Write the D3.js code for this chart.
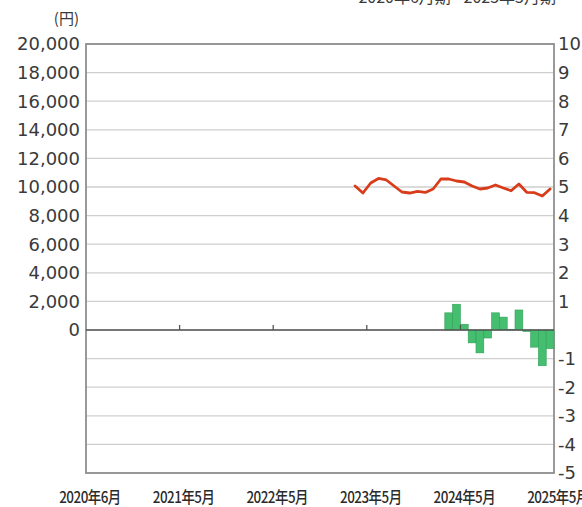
<!DOCTYPE html>
<html><head><meta charset="utf-8">
<script src="https://cdn.jsdelivr.net/npm/d3@7"></script>
<style>html,body{margin:0;padding:0;background:#fff;}svg{display:block;}</style>
</head><body>
<svg id="c" width="582" height="507"></svg>
<script>
// ---- data ----
const monthCount = 60; // 2020年6月 .. 2025年5月
const xTickIdx = [0, 12, 24, 36, 48, 60];
const xTickLabels = ["2020年6月", "2021年5月", "2022年5月", "2023年5月", "2024年5月", "2025年5月"];
const leftTicks = [20000, 18000, 16000, 14000, 12000, 10000, 8000, 6000, 4000, 2000, 0];
const leftGrid = [-2000, -4000, -6000, -8000, -10000];
const rightTicks = [10, 9, 8, 7, 6, 5, 4, 3, 2, 1, -1, -2, -3, -4, -5];
const lineStart = 34;
const lineValues = [10070, 9580, 10280, 10600, 10490, 10070, 9650, 9580, 9690, 9620,
  9860, 10560, 10560, 10420, 10350, 10070, 9860, 9930, 10140, 9930,
  9740, 10210, 9630, 9600, 9370, 9860];
const barStart = 46;
const barValues = [0.6, 0.9, 0.2, -0.45, -0.8, -0.28, 0.6, 0.45, 0.02, 0.7, -0.05, -0.6, -1.25, -0.65];

// ---- layout ----
const L = 86, R = 554, T = 44, B = 473;
const svg = d3.select("#c");
const x = d3.scaleLinear().domain([0, monthCount]).range([L, R]);
const yL = d3.scaleLinear().domain([-10000, 20000]).range([B, T]);
const yR = d3.scaleLinear().domain([-5, 10]).range([B, T]);

// gridlines
svg.append("g").selectAll("line").data(leftTicks.concat(leftGrid)).join("line")
  .attr("x1", L).attr("x2", R).attr("y1", d => yL(d)).attr("y2", d => yL(d))
  .attr("stroke", "#cfcfcf").attr("stroke-width", 1.3);

// frame
svg.append("rect").attr("x", L).attr("y", T).attr("width", R - L).attr("height", B - T)
  .attr("fill", "none").attr("stroke", "#8f8f8f").attr("stroke-width", 1.8);

// bars
const bw = x(1) - x(0);
svg.append("g").selectAll("rect").data(barValues).join("rect")
  .attr("x", (d, i) => x(barStart + i))
  .attr("width", bw)
  .attr("y", d => Math.min(yR(d), yR(0)))
  .attr("height", d => Math.abs(yR(d) - yR(0)))
  .attr("fill", "#45bf6f").attr("stroke", "#2f9f57").attr("stroke-width", 0.6);

// zero line
svg.append("line").attr("x1", L).attr("x2", R).attr("y1", yL(0)).attr("y2", yL(0))
  .attr("stroke", "#555").attr("stroke-width", 1.5);
// x ticks on zero line
svg.append("g").selectAll("line").data(xTickIdx.slice(1, -1)).join("line")
  .attr("x1", d => x(d)).attr("x2", d => x(d)).attr("y1", yL(0)).attr("y2", yL(0) - 5)
  .attr("stroke", "#555").attr("stroke-width", 1.3);

// red line
const line = d3.line().x((d, i) => x(lineStart + i + 0.5)).y(d => yL(d)).curve(d3.curveLinear);
svg.append("path").datum(lineValues).attr("d", line)
  .attr("fill", "none").attr("stroke", "#d83c1a").attr("stroke-width", 2.8)
  .attr("stroke-linejoin", "round").attr("stroke-linecap", "round");

// left axis labels
svg.append("g").selectAll("text").data(leftTicks).join("text")
  .attr("x", 80).attr("y", d => yL(d)).attr("dy", "0.36em")
  .attr("text-anchor", "end").attr("font-family", "DejaVu Sans").attr("font-size", 18)
  .attr("fill", "#3a3a3a").text(d => d3.format(",")(d));

// right axis labels
svg.append("g").selectAll("text").data(rightTicks).join("text")
  .attr("x", 558).attr("y", d => yR(d)).attr("dy", "0.36em")
  .attr("text-anchor", "start").attr("font-family", "DejaVu Sans").attr("font-size", 18)
  .attr("fill", "#3a3a3a").text(d => d);

// unit
svg.append("text").attr("x", 79).attr("y", 24).attr("text-anchor", "end")
  .attr("font-family", "Noto Sans CJK JP").attr("font-size", 15).attr("fill", "#3a3a3a").text("(円)");

// x labels (condensed)
svg.append("g").selectAll("text").data(xTickIdx).join("text")
  .attr("transform", d => `translate(${x(d) + 4},503) scale(0.84,1)`)
  .attr("text-anchor", "middle")
  .attr("font-family", "Noto Sans CJK JP").attr("font-size", 16).attr("font-weight", 500)
  .attr("letter-spacing", -0.6)
  .attr("fill", "#2a2a2a").text((d, i) => xTickLabels[i]);

// title (cut off at top)
svg.append("text").attr("x", 556).attr("y", 3).attr("text-anchor", "end")
  .attr("font-family", "Noto Sans CJK JP").attr("font-size", 16).attr("fill", "#3a3a3a")
  .text("2020年6月期 - 2025年5月期");
</script>
</body></html>
